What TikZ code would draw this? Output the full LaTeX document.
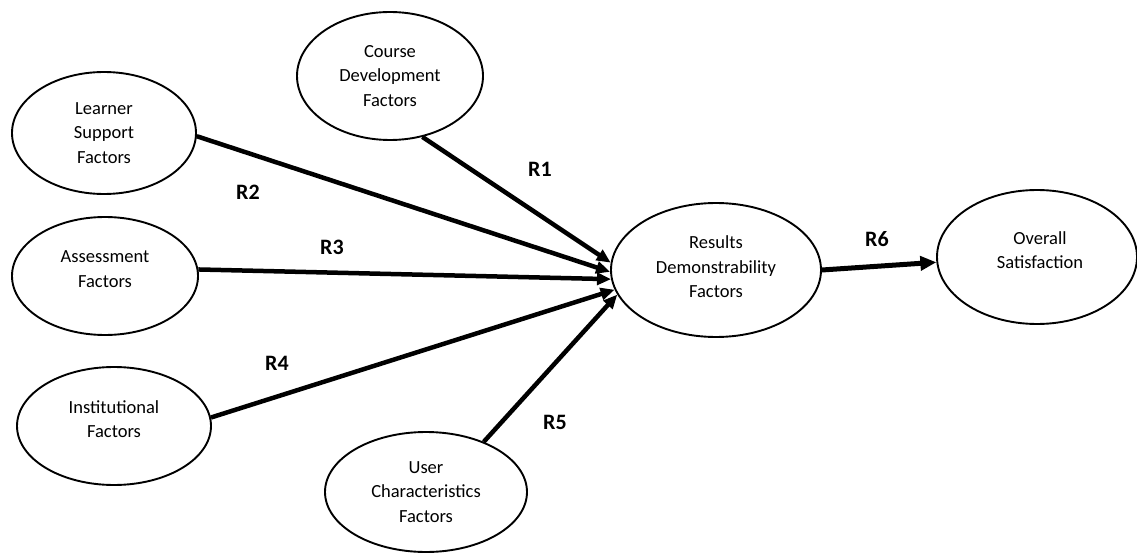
\documentclass[tikz,border=0pt]{standalone}
\usepackage{fontspec}
\setmainfont{Carlito}
\usetikzlibrary{shapes.geometric,arrows.meta}
\tikzset{
  ell/.style={draw, ellipse, line width=1.9pt, inner sep=0pt},
  txt/.style={align=center, font=\fontsize{18.5pt}{24.5pt}\selectfont, inner sep=0pt},
  conn/.style={line width=4.5pt, -{Triangle[length=14pt,width=12pt]}},
  connbig/.style={line width=5pt, -{Triangle[length=16pt,width=14pt]}},
  rlab/.style={font=\fontsize{22pt}{26pt}\selectfont\bfseries, inner sep=0pt}
}
\begin{document}
\begin{tikzpicture}[x=1pt,y=-1pt]
\useasboundingbox (0,0) rectangle (1137,553);
% ellipses
\node[ell, minimum width=186pt, minimum height=128pt] (cd) at (390,76) {};
\node[txt] at (cd.center) {Course\\Development\\Factors};
\node[ell, minimum width=184pt, minimum height=122pt] (ls) at (104,133) {};
\node[txt] at (ls.center) {Learner\\Support\\Factors};
\node[ell, minimum width=186pt, minimum height=118pt] (as) at (105,276) {};
\node[txt] at ([yshift=7pt]as.center) {Assessment\\Factors};
\node[ell, minimum width=194pt, minimum height=118pt] (inf) at (114,426) {};
\node[txt] at ([yshift=7pt]inf.center) {Institutional\\Factors};
\node[ell, minimum width=202pt, minimum height=120pt] (uc) at (426,492) {};
\node[txt] at (uc.center) {User\\Characteristics\\Factors};
\node[ell, minimum width=210pt, minimum height=134pt] (rd) at (716,270) {};
\node[txt] at ([yshift=3pt]rd.center) {Results\\Demonstrability\\Factors};
\node[ell, minimum width=200pt, minimum height=134pt] (os) at (1037,257) {};
\node[txt] at ([xshift=3pt,yshift=7pt]os.center) {Overall\\Satisfaction};
% connectors
\draw[conn] (cd.-62) -- (rd.176);
\draw[conn] (ls.-2) -- (rd.181);
\draw[conn] (as.4) -- (rd.185.5);
\draw[conn] (inf.5) -- (rd.191);
\draw[conn] (uc.41) -- (rd.194.5);
\draw[connbig] (rd.east) -- (os.183);
% labels
\node[rlab] (r1) at (540,169) {R1};
\node[rlab] (r2) at (248,192) {R2};
\node[rlab] (r3) at (332,247) {R3};
\node[rlab] (r4) at (277,363) {R4};
\node[rlab] (r5) at (555,422) {R5};
\node[rlab] (r6) at (877,239) {R6};
\end{tikzpicture}
\end{document}
